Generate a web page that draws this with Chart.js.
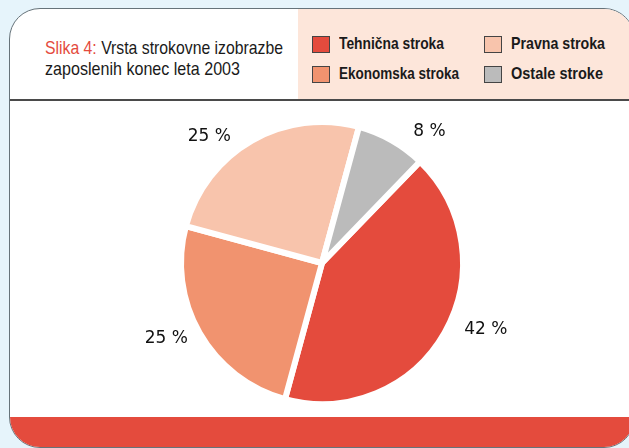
<!DOCTYPE html>
<html><head><meta charset="utf-8">
<script src="https://cdn.jsdelivr.net/npm/chart.js@4/dist/chart.umd.min.js"></script>
<style>
html,body{margin:0;padding:0}
body{width:629px;height:448px;overflow:hidden;position:relative;background:#e6f4fb;font-family:'Liberation Sans',sans-serif}
#card{position:absolute;left:9px;top:8px;width:626px;height:440px;box-sizing:border-box;border:1.6px solid #66737a;border-radius:31px;background:#fff;overflow:hidden}
#hdrR{position:absolute;left:288px;top:0;right:0;height:90px;background:#fde6da}
#sep{position:absolute;left:0;right:0;top:90px;height:2px;background:#4a4a4a}
#band{position:absolute;left:0;right:0;top:408px;bottom:0;background:#e44b3d}
.fit{position:absolute;white-space:nowrap;transform-origin:0 50%;color:#1a1a1a}
.t{font-size:19px;line-height:21px}
.t b{color:#e44b3d;font-weight:normal}
.lt{font-size:17px;font-weight:bold;line-height:18px}
.sw{position:absolute;width:18px;height:17px;border:1px solid #444;box-sizing:border-box}
#cv{position:absolute;left:122px;top:103px;width:400px;height:320px}
</style></head><body>
<div id="card">
  <div id="hdrR"></div>
  <div id="sep"></div>
  <div id="band"></div>
</div>
<div class="fit t" data-w="238" style="left:45px;top:37px"><b>Slika 4:</b> Vrsta strokovne izobrazbe</div>
<div class="fit t" data-w="195" style="left:45px;top:58px">zaposlenih konec leta 2003</div>
<div id="legend"></div>
<div id="cv"><canvas id="c" width="400" height="320"></canvas></div>
<script>
const categories = ['Tehnična stroka', 'Ekonomska stroka', 'Pravna stroka', 'Ostale stroke'];
const values = [42, 25, 25, 8];
const colors = ['#e44b3d', '#f1936f', '#f8c4ac', '#bbbbbb'];

// HTML legend built from the arrays (2 columns)
const legendPos = [[312, 36], [312, 66], [484, 36], [484, 66]];
const legendW = [105, 120, 94, 92];
const lg = document.getElementById('legend');
categories.forEach((c, i) => {
  const s = document.createElement('div');
  s.className = 'sw';
  s.style.left = legendPos[i][0] + 'px';
  s.style.top = legendPos[i][1] + 'px';
  s.style.background = colors[i];
  lg.appendChild(s);
  const t = document.createElement('div');
  t.className = 'fit lt';
  t.dataset.w = legendW[i];
  t.style.left = (legendPos[i][0] + 27) + 'px';
  t.style.top = (legendPos[i][1] - 1) + 'px';
  t.textContent = c;
  lg.appendChild(t);
});
document.querySelectorAll('.fit').forEach(el => {
  const w = el.getBoundingClientRect().width;
  el.style.transform = 'scaleX(' + (parseFloat(el.dataset.w) / w) + ')';
});

const pctLabels = {
  id: 'pctLabels',
  afterDatasetsDraw(chart, args, opts) {
    const ctx = chart.ctx;
    const meta = chart.getDatasetMeta(0);
    ctx.save();
    ctx.font = '17px "DejaVu Sans"';
    ctx.fillStyle = '#111';
    ctx.textAlign = 'center';
    ctx.textBaseline = 'middle';
    meta.data.forEach((arc, i) => {
      const mid = (arc.startAngle + arc.endAngle) / 2 + opts.shift[i] * Math.PI / 180;
      const r = opts.dist[i];
      ctx.fillText(chart.data.datasets[0].data[i] + ' %', arc.x + Math.cos(mid) * r, arc.y + Math.sin(mid) * r);
    });
    ctx.restore();
  }
};

new Chart(document.getElementById('c'), {
  type: 'pie',
  data: {
    labels: categories,
    datasets: [{
      data: values,
      backgroundColor: colors,
      borderColor: '#ffffff',
      borderWidth: 6,
      hoverOffset: 0
    }]
  },
  options: {
    responsive: false,
    animation: false,
    rotation: 44,
    radius: 141,
    layout: { padding: 0 },
    plugins: {
      legend: { display: false },
      tooltip: { enabled: false },
      pctLabels: { shift: [-7.4, 4, -12, 9.6], dist: [177, 173, 169, 170] }
    }
  },
  plugins: [pctLabels]
});
</script>
</body></html>
